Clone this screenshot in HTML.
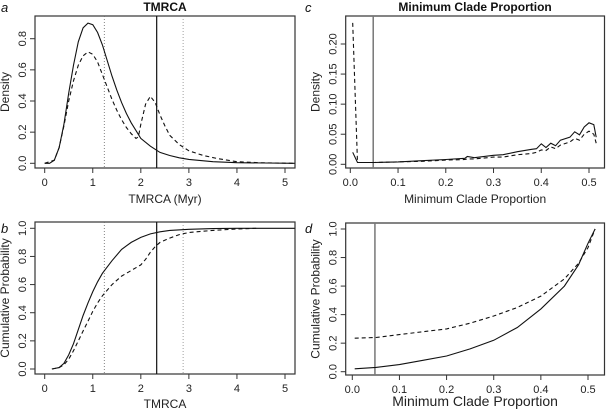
<!DOCTYPE html>
<html><head><meta charset="utf-8"><style>
body{margin:0;background:#fff}
svg{display:block;font-family:"Liberation Sans",Arial,sans-serif}
</style></head><body>
<svg id="chart" width="606" height="411" viewBox="0 0 606 411"></svg>
<script>
// Panel a: TMRCA density
const aX=[0,0.1,0.2,0.3,0.4,0.5,0.6,0.7,0.8,0.9,1.0,1.1,1.2,1.3,1.4,1.5,1.6,1.7,1.8,1.9,2.0,2.2,2.4,2.6,2.8,3.0,3.5,4.0,5.2];
const aSolid=[0,0,0.02,0.1,0.25,0.45,0.63,0.78,0.87,0.9,0.89,0.84,0.76,0.66,0.56,0.47,0.39,0.32,0.26,0.21,0.16,0.11,0.07,0.05,0.035,0.025,0.01,0.004,0];
const aDX=[0,0.2,0.3,0.4,0.5,0.6,0.7,0.8,0.9,1.0,1.1,1.2,1.3,1.4,1.5,1.6,1.7,1.8,1.9,1.95,2.0,2.1,2.2,2.3,2.4,2.5,2.6,2.8,3.0,3.3,3.6,4.0,4.5,5.2];
const aDashed=[0,0.02,0.1,0.24,0.4,0.53,0.63,0.69,0.715,0.7,0.65,0.57,0.49,0.41,0.34,0.28,0.23,0.19,0.16,0.17,0.25,0.38,0.43,0.39,0.31,0.24,0.18,0.12,0.08,0.05,0.03,0.01,0.003,0];
// Panel b: TMRCA CDF
const bX=[0.15,0.3,0.4,0.5,0.6,0.7,0.8,0.9,1.0,1.1,1.2,1.4,1.6,1.8,2.0,2.2,2.4,2.6,3.0,3.5,4.0,5.2];
const bSolid=[0,0.01,0.04,0.1,0.18,0.28,0.38,0.47,0.55,0.62,0.68,0.77,0.85,0.9,0.935,0.96,0.975,0.985,0.993,0.998,1,1];
const bDX=[0.15,0.3,0.4,0.5,0.6,0.7,0.8,0.9,1.0,1.1,1.2,1.4,1.6,1.8,1.9,2.0,2.1,2.2,2.3,2.4,2.6,2.8,3.0,3.5,4.0,4.4];
const bDashed=[0,0.01,0.03,0.07,0.13,0.2,0.27,0.34,0.41,0.47,0.52,0.6,0.66,0.7,0.72,0.74,0.78,0.83,0.87,0.9,0.93,0.955,0.97,0.985,0.995,1];
// Panel c: min clade proportion density
const cX=[0.005,0.015,0.05,0.1,0.15,0.2,0.24,0.245,0.26,0.3,0.32,0.35,0.38,0.39,0.40,0.41,0.42,0.43,0.44,0.46,0.47,0.48,0.49,0.5,0.51,0.515];
const cSolid=[0.02,0.003,0.003,0.004,0.006,0.008,0.01,0.013,0.011,0.015,0.016,0.021,0.025,0.026,0.034,0.028,0.035,0.031,0.04,0.045,0.054,0.049,0.062,0.069,0.066,0.045];
const cDashed=[0.235,0.003,0.003,0.004,0.005,0.007,0.008,0.009,0.009,0.012,0.012,0.016,0.018,0.02,0.024,0.023,0.029,0.026,0.032,0.037,0.043,0.04,0.05,0.055,0.05,0.035];
// Panel d: min clade proportion CDF
const dX=[0.005,0.05,0.1,0.15,0.2,0.25,0.3,0.35,0.4,0.45,0.48,0.5,0.515];
const dSolid=[0.02,0.03,0.05,0.08,0.11,0.16,0.22,0.31,0.44,0.6,0.75,0.9,1];
const dDashed=[0.235,0.24,0.26,0.28,0.3,0.34,0.39,0.45,0.53,0.65,0.76,0.87,1];
const tmrcaTicks=[0,1,2,3,4,5];
const propTicks=[0,0.1,0.2,0.3,0.4,0.5];
const densATicks=[0,0.2,0.4,0.6,0.8];
const densCTicks=[0,0.05,0.10,0.15,0.20];
const cdfTicks=[0,0.2,0.4,0.6,0.8,1.0];

const svg=document.getElementById('chart');
const NS='http://www.w3.org/2000/svg';
function mk(tag,attrs,parent){const e=document.createElementNS(NS,tag);for(const k in attrs)e.setAttribute(k,attrs[k]);(parent||svg).appendChild(e);return e;}

function panel(p){
  const g=mk('g',{});
  
  
  const sx=v=>p.x0+(v-p.xd[0])/(p.xd[1]-p.xd[0])*(p.x1-p.x0);
  const sy=v=>p.y0+(v-p.yd[0])/(p.yd[1]-p.yd[0])*(p.y1-p.y0);
  const box=mk('rect',{x:p.bx0,y:p.by0,width:p.bx1-p.bx0,height:p.by1-p.by0,fill:'none',stroke:'#333','stroke-width':1.2},g);
  
  
  p.xticks.forEach(t=>{
    const X=sx(t);
    mk('line',{x1:X,x2:X,y1:p.by1,y2:p.by1+5,stroke:'#333'},g);
    const tx=mk('text',{x:X,y:p.by1+18,'text-anchor':'middle','font-size':11,fill:'#222'},g);
    tx.textContent=p.xfmt(t);
    
    
  });
  p.yticks.forEach(t=>{
    const Y=sy(t);
    mk('line',{x1:p.bx0,x2:p.bx0-5,y1:Y,y2:Y,stroke:'#333'},g);
    const tx=mk('text',{x:p.bx0-9,y:Y,'text-anchor':'middle','font-size':11,fill:'#222',transform:`rotate(-90 ${p.bx0-9} ${Y})`},g);
    tx.textContent=p.yfmt(t);
    
    
  });
  const clip='c'+p.name;
  const cp=mk('clipPath',{id:clip},g);mk('rect',{x:p.bx0,y:p.by0,width:p.bx1-p.bx0,height:p.by1-p.by0},cp);
  (p.vlines||[]).forEach(v=>{
    const l=mk('line',{x1:sx(v.x),x2:sx(v.x),y1:p.by0,y2:p.by1,stroke:v.c,'stroke-width':v.w,'stroke-dasharray':v.d||'none'},g);
    
    
  });
  p.series.forEach(s=>{
    const d=s.xs.map((x,i)=>(i?'L':'M')+sx(x).toFixed(1)+','+sy(s.ys[i]).toFixed(1)).join('');
    const path=mk('path',{d:d,fill:'none',stroke:'#111','stroke-width':1.1,'stroke-dasharray':s.dash||'none','clip-path':`url(#${clip})`},g);
    
    
  });
  const xt=mk('text',{x:(p.bx0+p.bx1)/2,y:p.xtY,'text-anchor':'middle','font-size':p.xtSize,fill:'#222'},g);
  xt.textContent=p.xtitle;
  
  
  const yx=p.bx0-26,yy=(p.by0+p.by1)/2;
  const yt=mk('text',{x:yx,y:yy,'text-anchor':'middle','font-size':p.ytSize,fill:'#222',transform:`rotate(-90 ${yx} ${yy})`},g);
  yt.textContent=p.ytitle;
  
  
  if(p.title){
    const tt=mk('text',{x:(p.bx0+p.bx1)/2,y:11,'text-anchor':'middle','font-size':12,'font-weight':'bold',fill:'#111'},g);
    tt.textContent=p.title;
    
    
  }
  const lt=mk('text',{x:p.lx,y:p.ly,'font-size':13,'font-style':'italic',fill:'#111'},g);
  lt.textContent=p.letter;
  
  
}
const f1=v=>v.toFixed(1), f0=v=>String(v), f2=v=>v.toFixed(2);
const vt=[{x:2.33,c:'#111',w:1.2,n:'observed-line'},{x:1.24,c:'#666',w:0.8,d:'1,2',n:'ci-lower'},{x:2.88,c:'#888',w:0.8,d:'1,2',n:'ci-upper'}];
panel({name:'panel-a',bx0:35,bx1:295,by0:16,by1:168,x0:44.7,x1:285,xd:[0,5],y0:163.3,y1:38.7,yd:[0,0.8],
  xticks:tmrcaTicks,xfmt:f0,yticks:densATicks,yfmt:f1,xtitle:'TMRCA (Myr)',xtY:203,xtSize:12,ytitle:'Density',ytSize:12,
  title:'TMRCA',letter:'a',lx:1,ly:12,vlines:vt,
  series:[{xs:aX,ys:aSolid,n:'density-solid'},{xs:aDX,ys:aDashed,dash:'4,3',n:'density-dashed'}]});
panel({name:'panel-b',bx0:35,bx1:295,by0:222,by1:374,x0:44.7,x1:285,xd:[0,5],y0:369,y1:228.3,yd:[0,1],
  xticks:tmrcaTicks,xfmt:f0,yticks:cdfTicks,yfmt:f1,xtitle:'TMRCA',xtY:408,xtSize:12,ytitle:'Cumulative Probability',ytSize:12,
  letter:'b',lx:1,ly:233,vlines:vt,
  series:[{xs:bX,ys:bSolid,n:'cdf-solid'},{xs:bDX,ys:bDashed,dash:'4,3',n:'cdf-dashed'}]});
const vc=[{x:0.048,c:'#777',w:1.5,n:'observed-line'}];
panel({name:'panel-c',bx0:345.7,bx1:604.5,by0:16,by1:168,x0:350.3,x1:589,xd:[0,0.5],y0:164.3,y1:44,yd:[0,0.2],
  xticks:propTicks,xfmt:f1,yticks:densCTicks,yfmt:f2,xtitle:'Minimum Clade Proportion',xtY:203,xtSize:12,ytitle:'Density',ytSize:12,
  title:'Minimum Clade Proportion',letter:'c',lx:305,ly:12,vlines:vc,
  series:[{xs:cX,ys:cSolid,n:'density-solid'},{xs:cX,ys:cDashed,dash:'4,3',n:'density-dashed'}]});
panel({name:'panel-d',bx0:345.7,bx1:604.5,by0:223,by1:375,x0:352.3,x1:588,xd:[0,0.5],y0:371.7,y1:229,yd:[0,1],
  xticks:propTicks,xfmt:f1,yticks:cdfTicks,yfmt:f1,xtitle:'Minimum Clade Proportion',xtY:406,xtSize:14,ytitle:'Cumulative Probability',ytSize:12,
  letter:'d',lx:305,ly:233,vlines:vc,
  series:[{xs:dX,ys:dSolid,n:'cdf-solid'},{xs:dX,ys:dDashed,dash:'4,3',n:'cdf-dashed'}]});
</script>
</body></html>
